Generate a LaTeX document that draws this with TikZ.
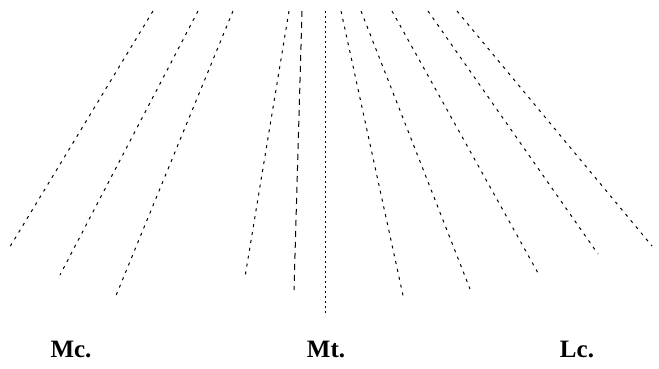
\documentclass[tikz,border=0pt]{standalone}
\usepackage{fontspec}
\setmainfont{Liberation Serif}
\begin{document}
\begin{tikzpicture}[x=1pt,y=-1pt,
  fanline/.style={line width=1pt,dash pattern=on 3pt off 5pt},
  longdash/.style={line width=1pt,dash pattern=on 6pt off 5pt},
  dotline/.style={line width=1pt,dash pattern=on 2pt off 3pt},
  lbl/.style={font=\fontsize{25}{28}\selectfont\bfseries,anchor=base,inner sep=0pt}]
\useasboundingbox (0,0) rectangle (659,368);
% left group
\coordinate (t1) at (153,11);  \coordinate (b1) at (8,250);
\coordinate (t2) at (198,11);  \coordinate (b2) at (60,275);
\coordinate (t3) at (233,11);  \coordinate (b3) at (115,298);
\coordinate (t4) at (289,11);  \coordinate (b4) at (245,277);
\coordinate (t5) at (302,11);  \coordinate (b5) at (294,290);
% centre
\coordinate (t6) at (325,11);  \coordinate (b6) at (325,316);
% right group
\coordinate (t7) at (341,11);  \coordinate (b7) at (404,300);
\coordinate (t8) at (361,11);  \coordinate (b8) at (470,289);
\coordinate (t9) at (392,11);  \coordinate (b9) at (538,273);
\coordinate (t10) at (428,11); \coordinate (b10) at (598,254);
\coordinate (t11) at (457,11); \coordinate (b11) at (652,246);
\draw[fanline] (t1) -- (b1);
\draw[fanline] (t2) -- (b2);
\draw[fanline] (t3) -- (b3);
\draw[fanline] (t4) -- (b4);
\draw[longdash] (t5) -- (b5);
\draw[dotline] (t6) -- (b6);
\draw[fanline] (t7) -- (b7);
\draw[fanline] (t8) -- (b8);
\draw[fanline] (t9) -- (b9);
\draw[fanline] (t10) -- (b10);
\draw[fanline] (t11) -- (b11);
% labels
\node[lbl] (mc) at (71,357) {Mc.};
\node[lbl] (mt) at (326,357) {Mt.};
\node[lbl] (lc) at (577,357) {Lc.};
\end{tikzpicture}
\end{document}
